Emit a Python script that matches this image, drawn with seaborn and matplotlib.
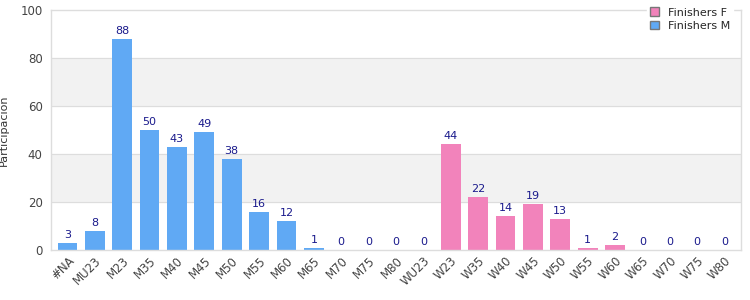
import matplotlib
matplotlib.use("Agg")
import matplotlib.pyplot as plt
import seaborn as sns
import pandas as pd
from matplotlib.patches import Patch

categories = ["#NA", "MU23", "M23", "M35", "M40", "M45", "M50", "M55", "M60", "M65",
              "M70", "M75", "M80", "WU23", "W23", "W35", "W40", "W45", "W50", "W55",
              "W60", "W65", "W70", "W75", "W80"]
finishers_m = [3, 8, 88, 50, 43, 49, 38, 16, 12, 1, 0, 0, 0, 0]
finishers_f = [44, 22, 14, 19, 13, 1, 2, 0, 0, 0, 0]
series_names = ["Finishers M", "Finishers F"]

values = finishers_m + finishers_f
groups = [series_names[0]] * len(finishers_m) + [series_names[1]] * len(finishers_f)
df = pd.DataFrame({"cat": categories, "val": values, "grp": groups})

sns.set_theme(style="white")
plt.rcParams['font.family'] = ['DejaVu Sans']

blue = "#60a9f4"
pink = "#f283bb"
fig = plt.figure(figsize=(7.5, 3), dpi=100)
ax = fig.add_axes([0.068, 0.167, 0.92, 0.8])

for lo in (20, 60):
    ax.axhspan(lo, lo + 20, color="#f2f2f2", zorder=0)
for y in (20, 40, 60, 80):
    ax.axhline(y, color="#dddddd", lw=0.8, zorder=0.5)

sns.barplot(data=df, x="cat", y="val", hue="grp", dodge=False, order=categories,
            palette={series_names[0]: blue, series_names[1]: pink},
            width=0.72, ax=ax, legend=False, zorder=2, saturation=1, linewidth=0)

for i, v in enumerate(values):
    ax.text(i, v + 1.2, str(v), ha="center", va="bottom", fontsize=8, color="#1a1a8c")

ax.set_ylim(0, 100)
ax.set_xlim(-0.6, len(categories) - 0.4)
ax.set_yticks([0, 20, 40, 60, 80, 100])
ax.tick_params(axis="y", labelsize=8.5, colors="#444444", length=0, pad=6)
ax.tick_params(axis="x", labelsize=8.5, colors="#444444", length=0, pad=3)
plt.setp(ax.get_xticklabels(), rotation=45, ha="right", rotation_mode="anchor")
ax.set_xlabel("")
ax.set_ylabel("Participación", fontsize=8, color="#333333", labelpad=8)
for s in ax.spines.values():
    s.set_color("#dddddd")
    s.set_linewidth(1)

handles = [Patch(facecolor=pink, edgecolor="#777777", label="Finishers F"),
           Patch(facecolor=blue, edgecolor="#777777", label="Finishers M")]
leg = fig.legend(handles=handles, loc="upper right", bbox_to_anchor=(0.985, 1.005),
                 fontsize=8, frameon=True, handlelength=0.8, handleheight=0.8,
                 borderpad=0.3, labelspacing=0.3, handletextpad=0.8)
leg.get_frame().set_edgecolor("white")
leg.get_frame().set_facecolor("white")
leg.get_frame().set_alpha(1)

fig.savefig("out.png", dpi=100)
